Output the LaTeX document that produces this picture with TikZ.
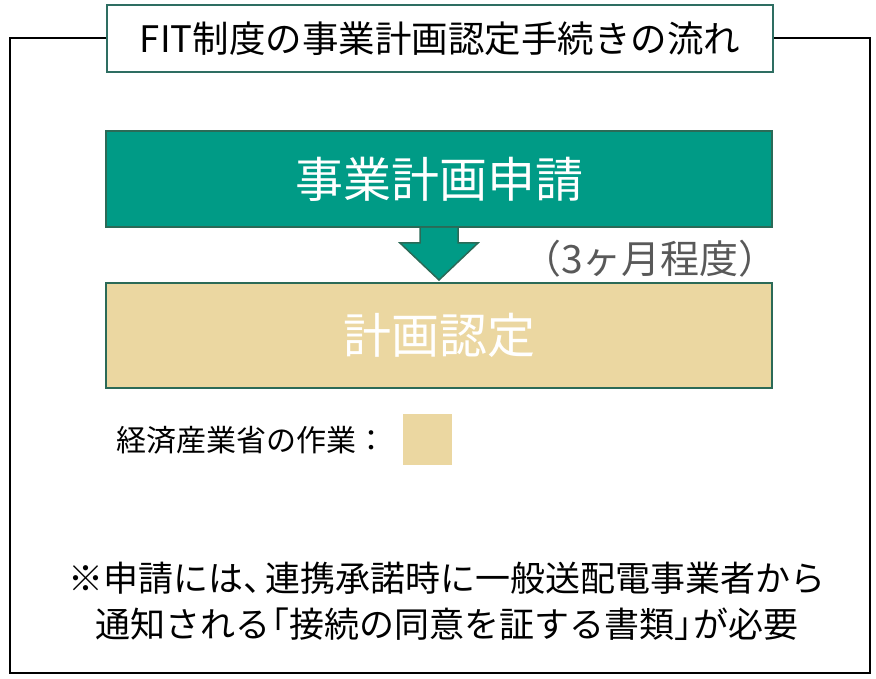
\documentclass[tikz,border=0pt]{standalone}
\usepackage{fontspec}
\setmainfont{Noto Sans CJK JP}
\usetikzlibrary{calc}
\definecolor{tealfill}{HTML}{009B86}
\definecolor{darkedge}{HTML}{2B6A57}
\definecolor{tanfill}{HTML}{EBD7A1}
\definecolor{greytext}{HTML}{595959}
\definecolor{titleedge}{HTML}{2E6E62}
\tikzset{
  titlebox/.style={draw=titleedge, line width=1.3pt, fill=white, minimum width=666pt, minimum height=67pt, inner sep=0pt, font=\fontsize{36.5}{40}\selectfont},
  stepbox/.style={draw=darkedge, line width=2pt, minimum width=666pt, inner sep=0pt, text=white, font=\fontsize{48}{52}\selectfont},
  frameline/.style={draw=black, line width=2pt},
}
\begin{document}
\begin{tikzpicture}[x=1pt,y=-1pt]
\useasboundingbox (0,0) rectangle (876,679);
\draw[frameline] (10,38) rectangle (870,673);
\node[titlebox] (title) at (440,38.5) {FIT制度の事業計画認定手続きの流れ};
\node[stepbox, fill=tealfill, minimum height=96pt] (apply) at (439,179) {事業計画申請};
\node[stepbox, fill=tanfill, minimum height=105pt] (cert) at (439,335.5) {計画認定};
\filldraw[fill=tealfill, draw=darkedge, line width=1.5pt, line join=miter]
  ($(apply.south)+(-19,0)$) -- ($(apply.south)+(-19,15)$) -- ($(apply.south)+(-39,15)$)
  -- ($(cert.north)+(0,-2)$) -- ($(apply.south)+(39,15)$) -- ($(apply.south)+(19,15)$)
  -- ($(apply.south)+(19,0)$);
\node[anchor=west, text=greytext, font=\fontsize{39}{44}\selectfont, inner sep=0pt] (period) at (522,259) {（3ヶ月程度）};
\node[anchor=west, font=\fontsize{30}{34}\selectfont, inner sep=0pt] (legend) at (116,440) {経済産業省の作業：};
\node[fill=tanfill, minimum width=49pt, minimum height=51pt, inner sep=0pt] (swatch) at (427.5,439.5) {};
\node[align=center, font=\fontsize{35}{46}\selectfont, inner sep=0pt] (note) at (447,601) {※申請には、\kern-0.35em 連携承諾時に一般送配電事業者から\\通知される\kern-0.45em「接続の同意を証する書類」\kern-0.45em が必要};
\end{tikzpicture}
\end{document}
